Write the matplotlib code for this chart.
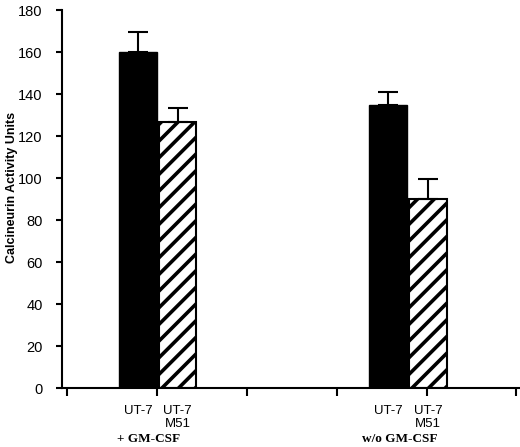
import matplotlib.pyplot as plt

# Values
groups = ['+ GM-CSF', 'w/o GM-CSF']
bar_labels = ['UT-7', 'UT-7\nM51']
ut7_vals = [160, 135]
ut7_err = [9.5, 6]
m51_vals = [126.5, 90]
m51_err = [7, 9.5]
y_ticks = [0, 20, 40, 60, 80, 100, 120, 140, 160, 180]

plt.rcParams['hatch.linewidth'] = 2.6
fig = plt.figure(figsize=(5.2, 4.47), dpi=100)
ax = fig.add_axes([62 / 520, 1 - 388 / 447, 458 / 520, 378 / 447])

# bar positions in tick units (group gaps as in the original)
ut7_x = [0.79, 3.575]
m51_x = [1.23, 4.02]
w = 0.42

# only the upper half of each error bar is shown
ax.bar(ut7_x, ut7_vals, width=w, color='black', edgecolor='black',
       yerr=[[0, 0], ut7_err], capsize=7, error_kw=dict(elinewidth=1.5, capthick=1.5))
ax.bar(m51_x, m51_vals, width=w, color='white', edgecolor='black', linewidth=1.5,
       hatch='//', yerr=[[0, 0], m51_err], capsize=7,
       error_kw=dict(elinewidth=1.5, capthick=1.5))

ax.set_xlim(-0.055, 5.04)
ax.set_ylim(0, 180)
ax.set_xticks([0, 1, 2, 3, 4, 5])
ax.set_xticklabels([])
ax.set_yticks(y_ticks)
ax.set_yticklabels([str(t) for t in y_ticks], family='Liberation Sans', fontsize=10.5)
ax.tick_params(axis='y', length=4, width=1.5, pad=10)
ax.tick_params(axis='x', length=6, width=1.5)
ax.spines['top'].set_visible(False)
ax.spines['right'].set_visible(False)
ax.spines['left'].set_linewidth(1.5)
ax.spines['bottom'].set_linewidth(1.5)

# category labels under the bars
for i in range(2):
    ax.text(ut7_x[i], -8, bar_labels[0], ha='center', va='top',
            family='Liberation Sans', fontsize=9.5, clip_on=False)
    ax.text(m51_x[i], -8, bar_labels[1], ha='center', va='top', linespacing=1.1,
            family='Liberation Sans', fontsize=9.5, clip_on=False)
    ax.text((ut7_x[i] + m51_x[i]) / 2 - 0.1, -21.5, groups[i], ha='center', va='top',
            family='Liberation Serif', fontweight='bold', fontsize=9.5, clip_on=False)

ax.set_ylabel('Calcineurin Activity Units', family='Liberation Sans',
              fontweight='bold', fontsize=9)
ax.yaxis.set_label_coords(-0.097, 0.53)

fig.savefig('out.png', dpi=100)
